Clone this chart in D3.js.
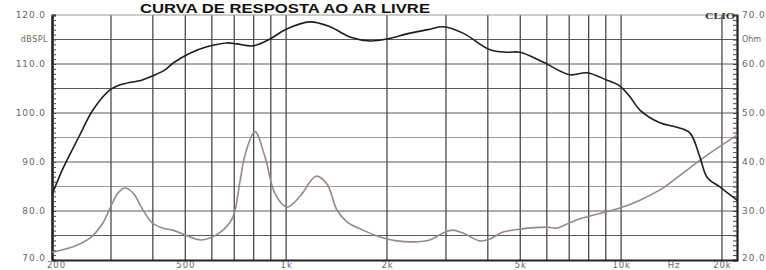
<!DOCTYPE html>
<html><head><meta charset="utf-8">
<script src="https://cdn.jsdelivr.net/npm/d3@7"></script>
<style>body{margin:0;background:#fff;}svg{display:block;}</style>
</head><body>
<svg id="c" width="766" height="270"></svg>
<script>
// ---- data ----
const title = "CURVA DE RESPOSTA AO AR LIVRE";
const splFreq = [200,215,240,265,298,325,370,400,435,460,516,580,666,713,796,895,1000,1178,1352,1550,1779,2000,2342,2686,2940,3373,4060,4560,4990,5844,7030,7906,9077,9920,10630,11380,13060,14690,16060,17190,18050,19720,22180];
const splDb   = [83.3,88.5,95.0,100.6,104.7,105.9,106.7,107.6,108.8,110.2,112.2,113.5,114.3,114.1,113.7,115.1,117.1,118.6,117.6,115.5,114.7,115.1,116.3,117.1,117.6,116.3,112.9,112.4,112.4,110.4,107.8,108.2,106.7,105.5,103.3,100.6,98.0,97.1,95.9,91.0,86.9,84.9,82.2];
const impFreq = [200,231,260,284,298,315,330,349,371,398,429,459,499,553,592,648,694,728,754,807,865,927,1006,1100,1228,1324,1418,1519,1696,1906,2142,2392,2686,2940,3148,3373,3790,4060,4440,4990,6008,6437,7030,7536,9920,11380,13060,13990,17540,22180];
const impOhm  = [21.6,22.7,24.5,27.6,30.6,33.7,34.7,33.7,30.6,27.6,26.5,26.1,25.1,24.1,24.5,26.1,28.8,36.0,41.5,46.2,41.0,33.5,30.8,33.0,37.1,35.5,30.2,27.8,26.1,24.7,23.9,23.7,24.1,25.5,26.1,25.5,23.9,24.3,25.7,26.3,26.7,26.5,27.6,28.4,30.6,32.2,34.3,35.7,40.8,45.5];
const xGrid = [300,400,500,600,700,800,900,1000,2000,3000,4000,5000,6000,7000,8000,9000,10000,20000];
const xLabels = [200,500,1000,2000,5000,10000,20000];
const xLabelText = ["200","500","1k","2k","5k","10k","20k"];
const yGrid = [75,80,85,90,95,100,105,110,115];
const yLightGrid = [95,85];
const leftTicks = [120,110,100,90,80,70];
const rightTicks = [70,60,50,40,30,20];

// ---- scales ----
const L = 52, R = 737, T = 15, B = 260;
const x = d3.scaleLog().domain([200, 22180]).range([L, R]);
const yL = d3.scaleLinear().domain([70, 120]).range([B, T]);
const yR = d3.scaleLinear().domain([20, 70]).range([B, T]);
const svg = d3.select("#c");

// grid
svg.append("g").selectAll("line").data(yGrid).join("line")
  .attr("x1", L).attr("x2", R).attr("y1", d => yL(d)).attr("y2", d => yL(d))
  .attr("stroke", d => yLightGrid.includes(d) ? "#a39a95" : "#5a5a5a").attr("stroke-width", 1.2);
svg.append("g").selectAll("line").data(xGrid).join("line")
  .attr("x1", d => x(d)).attr("x2", d => x(d)).attr("y1", T).attr("y2", B)
  .attr("stroke", "#4a4a4a").attr("stroke-width", 1.3);
// top border
svg.append("line").attr("x1", L).attr("x2", R).attr("y1", T).attr("y2", T).attr("stroke", "#999").attr("stroke-width", 1.2);

// axes
const fontL = "'DejaVu Sans', sans-serif";
const gL = svg.append("g").attr("transform", `translate(${L},0)`)
  .call(d3.axisLeft(yL).tickValues(leftTicks).tickFormat(d3.format(".1f")).tickSize(0).tickPadding(6));
const gLm = svg.append("g").attr("transform", `translate(${L},0)`)
  .call(d3.axisRight(yL).tickValues(d3.range(70, 121, 1)).tickFormat("").tickSize(4));
const gR = svg.append("g").attr("transform", `translate(${R},0)`)
  .call(d3.axisRight(yR).tickValues(rightTicks).tickFormat(d3.format(".1f")).tickSize(0).tickPadding(5));
const gRm = svg.append("g").attr("transform", `translate(${R},0)`)
  .call(d3.axisLeft(yR).tickValues(d3.range(20, 71, 1)).tickFormat("").tickSize(4));
const gB = svg.append("g").attr("transform", `translate(0,${B})`)
  .call(d3.axisBottom(x).tickValues(xLabels).tickFormat((d, i) => xLabelText[i]).tickSize(0).tickPadding(2));
[gL, gLm, gR, gRm, gB].forEach(g => {
  g.select(".domain").attr("stroke", "#222").attr("stroke-width", 2);
  g.selectAll(".tick line").attr("stroke", "#444").attr("stroke-width", 1);
  g.selectAll("text").attr("font-family", fontL).attr("font-size", 9).attr("fill", "#666").attr("letter-spacing", 0.9);
});
gB.selectAll("text").attr("font-size", 8.5);
// keep the first x label clear of the "70.0" label
gB.selectAll(".tick").filter(d => d === 200).select("text").attr("x", 4);
gL.selectAll(".tick").filter(d => d === 70).select("text").attr("dy", "0.1em");
gR.selectAll(".tick").filter(d => d === 20).select("text").attr("dy", "0.1em");
gL.select(".domain").attr("stroke-width", 2.2);
gB.select(".domain").attr("stroke-width", 2.2);
gR.select(".domain").attr("stroke-width", 1.5);

// unit labels
svg.append("text").attr("x", 48).attr("y", yL(115)).attr("dy", "0.32em").attr("text-anchor", "end")
  .attr("font-family", fontL).attr("font-size", 8).attr("fill", "#666").attr("letter-spacing", 0.5).text("dBSPL");
svg.append("text").attr("x", 742).attr("y", yR(65)).attr("dy", "0.32em")
  .attr("font-family", fontL).attr("font-size", 8).attr("fill", "#666").text("Ohm");
svg.append("text").attr("x", 674).attr("y", B + 2).attr("dy", "0.71em").attr("text-anchor", "middle")
  .attr("font-family", fontL).attr("font-size", 8.5).attr("fill", "#666").attr("letter-spacing", 0.9).text("Hz");
svg.append("text").attr("x", 705).attr("y", 19)
  .attr("font-family", "'Liberation Serif', serif").attr("font-weight", "bold").attr("font-size", 9)
  .attr("textLength", 30).attr("lengthAdjust", "spacingAndGlyphs").attr("fill", "#333").text("CLIO");

// curves
const lineSpl = d3.line().x(d => x(d[0])).y(d => yL(d[1])).curve(d3.curveCatmullRom.alpha(0.5));
const lineImp = d3.line().x(d => x(d[0])).y(d => yR(d[1])).curve(d3.curveCatmullRom.alpha(0.5));
svg.append("path").datum(d3.zip(impFreq, impOhm)).attr("d", lineImp)
  .attr("fill", "none").attr("stroke", "#958a86").attr("stroke-width", 1.6);
svg.append("path").datum(d3.zip(splFreq, splDb)).attr("d", lineSpl)
  .attr("fill", "none").attr("stroke", "#1e1e1e").attr("stroke-width", 1.6);

// title
svg.append("text").attr("x", 285).attr("y", 13).attr("text-anchor", "middle")
  .attr("font-family", "'Liberation Sans', Arial, sans-serif").attr("font-weight", "bold").attr("font-size", 13)
  .attr("textLength", 290).attr("lengthAdjust", "spacingAndGlyphs").attr("fill", "#111").text(title);
</script>
</body></html>
